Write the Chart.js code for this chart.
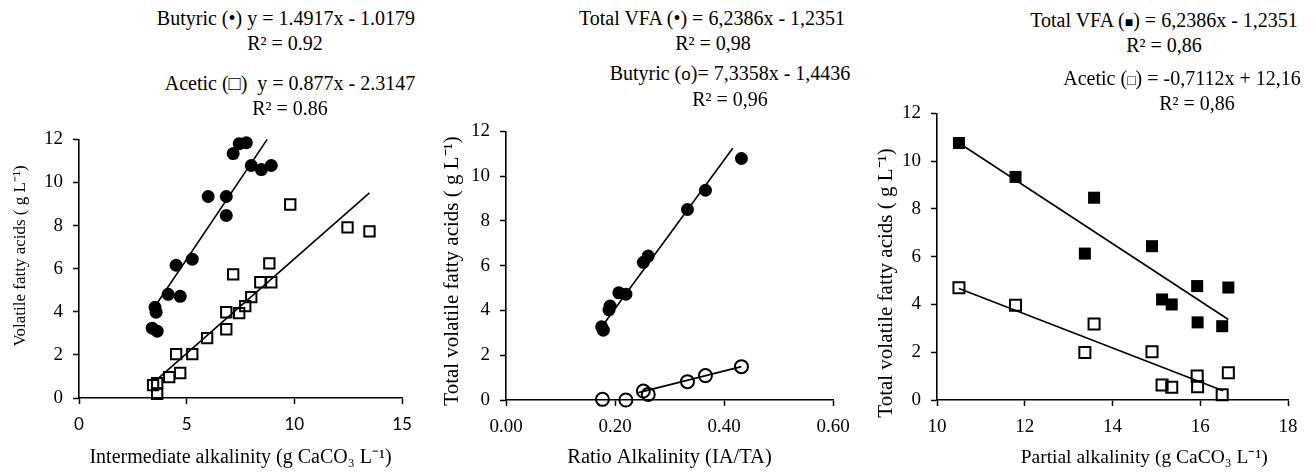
<!DOCTYPE html>
<html><head><meta charset="utf-8">
<script src="https://cdn.jsdelivr.net/npm/chart.js@4.4.0/dist/chart.umd.min.js"></script>
<style>
html,body{margin:0;padding:0;background:#fff;}
body{width:1313px;height:473px;position:relative;overflow:hidden;font-family:"Liberation Serif",serif;color:#000;}
.c{position:absolute;}
.t{position:absolute;transform:translate(-50%,-50%);white-space:nowrap;font-size:20px;line-height:1;}
.s{font-family:"Liberation Sans",sans-serif;font-size:17px;}
.m{font-size:14px;}
</style></head><body>
<div class="c" style="left:0;top:118px;width:440px;height:355px"><canvas id="c1"></canvas></div>
<div class="c" style="left:430px;top:110px;width:440px;height:363px"><canvas id="c2"></canvas></div>
<div class="c" style="left:860px;top:92px;width:453px;height:381px"><canvas id="c3"></canvas></div>

<div class="t" style="left:286px;top:18px">Butyric (•) y = 1.4917x - 1.0179</div>
<div class="t" style="left:285px;top:43px">R² = 0.92</div>
<div class="t" style="left:290px;top:83px">Acetic (□) &nbsp;y = 0.877x - 2.3147</div>
<div class="t" style="left:290px;top:108px">R² = 0.86</div>

<div class="t" style="left:712px;top:18px">Total VFA (•) = 6,2386x - 1,2351</div>
<div class="t" style="left:713px;top:43px">R² = 0,98</div>
<div class="t" style="left:730px;top:73px">Butyric (<span class="s">o</span>)= 7,3358x - 1,4436</div>
<div class="t" style="left:730px;top:99px">R² = 0,96</div>

<div class="t" style="left:1164px;top:20px">Total VFA (<span class="m">■</span>) = 6,2386x - 1,2351</div>
<div class="t" style="left:1164px;top:45px">R² = 0,86</div>
<div class="t" style="left:1182px;top:78px">Acetic (<span class="m">□</span>) = -0,7112x + 12,16</div>
<div class="t" style="left:1197px;top:103px">R² = 0,86</div>

<script>
// ---------- Panel 1: Intermediate alkalinity ----------
const p1ButyricX = [3.40,3.63,3.53,3.58,4.14,4.70,4.51,5.26,6.00,6.84,6.84,7.16,7.44,7.77,8.00,8.47,8.93];
const p1ButyricY = [3.24,3.10,4.21,3.98,4.81,4.72,6.16,6.44,9.35,9.35,8.47,11.34,11.80,11.85,10.79,10.60,10.79];
const p1AceticX = [3.44,3.63,3.63,4.19,4.70,4.51,5.26,5.95,6.84,6.84,7.16,7.44,7.72,8.00,8.42,8.93,8.84,9.81,12.47,13.49];
const p1AceticY = [0.60,0.69,0.19,0.97,1.16,2.04,2.04,2.78,3.19,3.98,5.74,3.94,4.26,4.68,5.37,5.37,6.25,8.98,7.92,7.73];
const p1ButyricFitX = [3.65, 8.74];
const p1ButyricFitY = [4.43, 12.0];
const p1AceticFitX = [3.60, 13.49];
const p1AceticFitY = [0.84, 9.52];
const p1XTicks = [0, 5, 10, 15];
const p1XLabels = ["0", "5", "10", "15"];

// ---------- Panel 2: Ratio alkalinity ----------
const p2TotalX = [0.1756,0.1786,0.189,0.191,0.207,0.220,0.252,0.261,0.333,0.366,0.432];
const p2TotalY = [3.27,3.12,4.02,4.20,4.79,4.73,6.15,6.43,8.51,9.37,10.79];
const p2ButyricX = [0.177,0.220,0.252,0.261,0.333,0.366,0.432];
const p2ButyricY = [0.03,0.00,0.40,0.25,0.82,1.09,1.49];
const p2TotalFitX = [0.175, 0.416];
const p2TotalFitY = [3.25, 11.25];
const p2ButyricFitX = [0.243, 0.432];
const p2ButyricFitY = [0.33, 1.49];
const p2XTicks = [0, 0.2, 0.4, 0.6];
const p2XLabels = ["0.00", "0.20", "0.40", "0.60"];

// ---------- Panel 3: Partial alkalinity ----------
const p3TotalX = [10.50,11.79,13.37,13.58,14.90,15.13,15.35,15.93,15.94,16.50,16.64];
const p3TotalY = [10.76,9.34,6.13,8.47,6.44,4.21,4.00,4.77,3.25,3.09,4.71];
const p3AceticX = [10.50,11.79,13.37,13.58,14.90,15.13,15.35,15.93,15.94,16.50,16.64];
const p3AceticY = [4.70,3.97,1.99,3.18,2.02,0.63,0.53,1.00,0.56,0.22,1.14];
const p3TotalFitX = [10.50, 16.64];
const p3TotalFitY = [10.76, 3.37];
const p3AceticFitX = [10.50, 16.52];
const p3AceticFitY = [4.67, 0.39];
const p3XTicks = [10, 12, 14, 16, 18];
const p3XLabels = ["10", "12", "14", "16", "18"];

const yTicks = [0, 2, 4, 6, 8, 10, 12];
const yLabels = ["0", "2", "4", "6", "8", "10", "12"];

const SERIF = "'Liberation Serif', serif";
const pts = (xs, ys) => xs.map((x, i) => ({x: x, y: ys[i]}));

function scatterSet(xs, ys, style, radius, filled, bw) {
  return {data: pts(xs, ys), showLine: false, pointStyle: style, pointRadius: radius, pointHoverRadius: radius,
    pointBackgroundColor: filled ? '#000' : 'rgba(0,0,0,0)', pointBorderColor: '#000', pointBorderWidth: bw,
    clip: false, order: 2};
}
function fitSet(xs, ys) {
  return {data: pts(xs, ys), showLine: true, pointRadius: 0, borderColor: '#000', borderWidth: 1.6,
    clip: false, order: 1};
}

function makeChart(id, datasets, cfg) {
  const tickFont = {family: SERIF, size: 19};
  new Chart(document.getElementById(id), {
    type: 'scatter',
    data: {datasets: datasets},
    options: {
      responsive: true, maintainAspectRatio: false, animation: false,
      layout: {padding: {top: 0, right: cfg.padRight, left: 0, bottom: 0}},
      plugins: {legend: {display: false}, tooltip: {enabled: false}},
      scales: {
        x: {
          type: 'linear', min: cfg.xTicks[0], max: cfg.xTicks[cfg.xTicks.length - 1],
          afterBuildTicks: s => { s.ticks = cfg.xTicks.map(v => ({value: v})); },
          afterFit: s => { s.height = cfg.xH; },
          ticks: {callback: (v, i) => cfg.xLabels[i], font: cfg.xTickFont || tickFont, color: '#000', padding: 10, maxRotation: 0, autoSkip: false},
          grid: {display: true, drawOnChartArea: false, drawTicks: true, tickLength: 6, tickWidth: 1.5, tickColor: '#000'},
          border: {display: true, color: '#000', width: 1.6},
          title: {display: true, text: cfg.xTitle, font: {family: SERIF, size: cfg.xTitleSize}, color: '#000', padding: {top: 0, bottom: 3}}
        },
        y: {
          type: 'linear', min: 0, max: 12,
          afterBuildTicks: s => { s.ticks = yTicks.map(v => ({value: v})); },
          afterFit: s => { s.width = cfg.yW; },
          ticks: {callback: (v, i) => yLabels[i], font: tickFont, color: '#000', padding: 10, autoSkip: false},
          grid: {display: true, drawOnChartArea: false, drawTicks: true, tickLength: 6, tickWidth: 1.5, tickColor: '#000'},
          border: {display: true, color: '#000', width: 1.6},
          title: {display: true, text: cfg.yTitle, font: {family: SERIF, size: cfg.yTitleSize}, color: '#000', padding: {top: cfg.yTitlePad, bottom: 0}}
        }
      }
    }
  });
}

makeChart('c1', [
  fitSet(p1ButyricFitX, p1ButyricFitY),
  fitSet(p1AceticFitX, p1AceticFitY),
  scatterSet(p1ButyricX, p1ButyricY, 'circle', 6.5, true, 0),
  scatterSet(p1AceticX, p1AceticY, 'rect', 7.3, false, 2)
], {padRight: 38, xH: 75, yW: 79, xTicks: p1XTicks, xLabels: p1XLabels,
    xTickFont: {family: "'Lato', 'Liberation Sans', sans-serif", size: 17},
    xTitle: 'Intermediate alkalinity (g CaCO₃ L⁻¹)', xTitleSize: 20,
    yTitle: '      Volatile fatty acids ( g L⁻¹)', yTitleSize: 17, yTitlePad: 10});

makeChart('c2', [
  fitSet(p2TotalFitX, p2TotalFitY),
  fitSet(p2ButyricFitX, p2ButyricFitY),
  scatterSet(p2TotalX, p2TotalY, 'circle', 6.5, true, 0),
  scatterSet(p2ButyricX, p2ButyricY, 'circle', 6.5, false, 2)
], {padRight: 37, xH: 73, yW: 76, xTicks: p2XTicks, xLabels: p2XLabels,
    xTitle: 'Ratio Alkalinity (IA/TA)', xTitleSize: 20.5,
    yTitle: 'Total volatile fatty acids ( g L⁻¹)  ', yTitleSize: 21, yTitlePad: 10});

makeChart('c3', [
  fitSet(p3TotalFitX, p3TotalFitY),
  fitSet(p3AceticFitX, p3AceticFitY),
  scatterSet(p3TotalX, p3TotalY, 'rect', 8.5, true, 0),
  scatterSet(p3AceticX, p3AceticY, 'rect', 7.8, false, 2)
], {padRight: 25, xH: 73, yW: 77, xTicks: p3XTicks, xLabels: p3XLabels,
    xTitle: '             Partial alkalinity (g CaCO₃ L⁻¹)', xTitleSize: 19.5,
    yTitle: 'Total volatile fatty acids ( g L⁻¹)          ', yTitleSize: 21, yTitlePad: 14});
</script>
</body></html>
